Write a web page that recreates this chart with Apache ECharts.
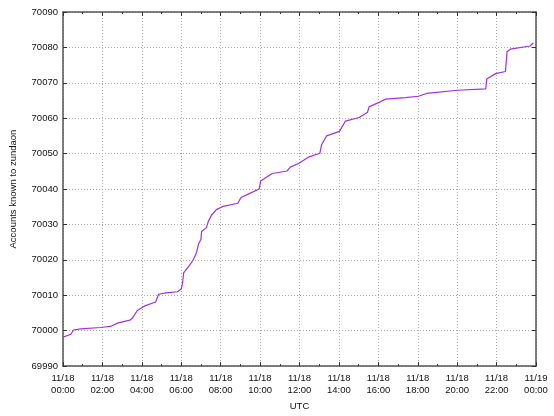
<!DOCTYPE html>
<html><head><meta charset="utf-8">
<script src="https://cdn.jsdelivr.net/npm/echarts@6/dist/echarts.min.js"></script>
<style>html,body{margin:0;padding:0;background:#fff}#c{width:554px;height:416px}</style>
</head><body><div id="c"></div>
<script>
// hours since 11/18 00:00 UTC
const hours = [0,0.4,0.53,0.9,1.9,2.4,2.8,3.4,3.53,3.77,4.15,4.7,4.85,5.23,5.8,6.0,6.07,6.12,6.37,6.6,6.78,6.87,7.0,7.03,7.28,7.37,7.53,7.78,8.12,8.87,9.03,9.37,9.95,10.03,10.28,10.62,11.37,11.53,11.95,12.45,13.03,13.12,13.37,14.03,14.33,15.03,15.45,15.53,16.12,16.37,17.37,18.03,18.45,20.03,21.45,21.5,21.95,22.45,22.53,22.7,23.7,23.87];
const accounts = [69998.2,69999.0,70000.2,70000.5,70000.9,70001.2,70002.2,70003.0,70003.6,70005.7,70007.0,70008.1,70010.3,70010.7,70011.0,70011.8,70013.6,70016.3,70018.1,70019.9,70022.1,70024.4,70025.8,70028.0,70029.1,70030.8,70032.6,70034.2,70035.1,70036.0,70037.6,70038.5,70040.0,70042.3,70043.2,70044.4,70045.1,70046.2,70047.2,70049.0,70050.1,70052.5,70055.0,70056.3,70059.2,70060.2,70061.7,70063.2,70064.7,70065.4,70065.8,70066.2,70067.0,70067.9,70068.3,70071.1,70072.6,70073.2,70078.8,70079.5,70080.4,70081.3];
const xTickLabels = ['11/18\n00:00','11/18\n02:00','11/18\n04:00','11/18\n06:00','11/18\n08:00','11/18\n10:00','11/18\n12:00','11/18\n14:00','11/18\n16:00','11/18\n18:00','11/18\n20:00','11/18\n22:00','11/19\n00:00'];
const yAxisTitle = 'Accounts known to zundaon';
const xAxisTitle = 'UTC';

const font = 'Liberation Sans, DejaVu Sans, sans-serif';
const chart = echarts.init(document.getElementById('c'), null, {renderer:'canvas'});
const frame = {show:true, onZero:false, lineStyle:{color:'#555', width:1.5}};
chart.setOption({
  animation:false,
  backgroundColor:'#fff',
  grid:{left:56, right:18, top:12, bottom:36, containLabel:false},
  xAxis:[{
    type:'value', min:0, max:24, interval:2, position:'bottom',
    axisLine:frame,
    axisTick:{show:true, inside:true, length:4, lineStyle:{color:'#333'}},
    minorTick:{show:true, splitNumber:2, length:2, lineStyle:{color:'#333'}},
    splitLine:{show:true, lineStyle:{color:'#aaa', type:[1,2], width:1}},
    axisLabel:{color:'#111', fontFamily:font, fontSize:9.5, lineHeight:12, margin:6,
      formatter:(v)=>xTickLabels[Math.round(v/2)]},
    name:xAxisTitle, nameLocation:'middle', nameGap:25,
    nameTextStyle:{color:'#111', fontFamily:font, fontSize:9.5}
  },{
    type:'value', min:0, max:24, interval:2, position:'top',
    axisLine:frame,
    axisTick:{show:true, inside:true, length:4, lineStyle:{color:'#333'}},
    minorTick:{show:true, splitNumber:2, length:2, lineStyle:{color:'#333'}},
    splitLine:{show:false}, axisLabel:{show:false}
  }],
  yAxis:[{
    type:'value', min:69990, max:70090, interval:10, position:'left',
    axisLine:frame,
    axisTick:{show:true, inside:true, length:4, lineStyle:{color:'#333'}},
    splitLine:{show:true, lineStyle:{color:'#aaa', type:[1,2], width:1}},
    axisLabel:{color:'#111', fontFamily:font, fontSize:9.5, margin:5, formatter:(v)=>String(v)},
    name:yAxisTitle, nameLocation:'middle', nameGap:45, nameRotate:90,
    nameTextStyle:{color:'#111', fontFamily:font, fontSize:9.5}
  },{
    type:'value', min:69990, max:70090, interval:10, position:'right',
    axisLine:frame,
    axisTick:{show:true, inside:true, length:4, lineStyle:{color:'#333'}},
    splitLine:{show:false}, axisLabel:{show:false}
  }],
  series:[{
    type:'line', xAxisIndex:0, yAxisIndex:0,
    data:hours.map((h,i)=>[h,accounts[i]]),
    showSymbol:false, symbol:'none',
    lineStyle:{color:'#a030e0', width:1.2},
    itemStyle:{color:'#a030e0'}
  }]
});
</script></body></html>
